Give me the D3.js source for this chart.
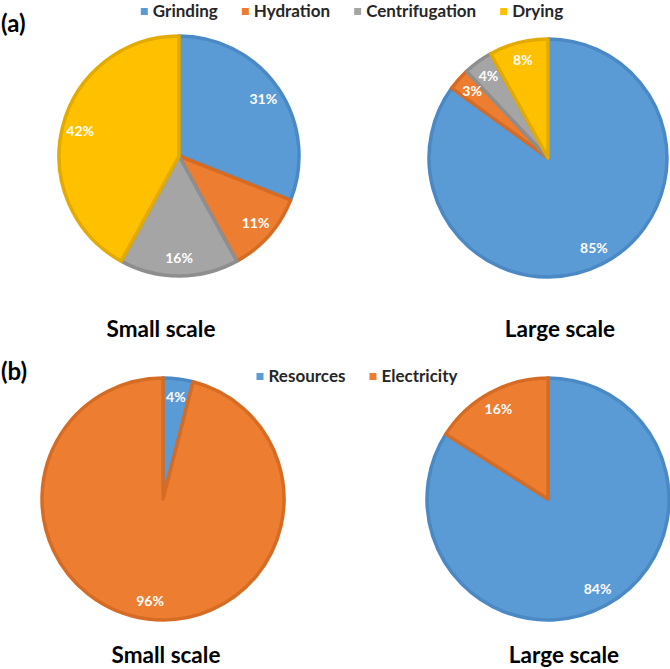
<!DOCTYPE html>
<html><head><meta charset="utf-8">
<script src="https://cdn.jsdelivr.net/npm/d3@7"></script>
<style>
body{margin:0;background:#fff}
svg{display:block}
text{font-family:Lato,"Open Sans",sans-serif;font-weight:700}
</style>
</head><body>
<svg id="c" width="670" height="669"></svg>
<script>
// ---- data ----
const stepsA = ["Grinding", "Hydration", "Centrifugation", "Drying"];
const smallScaleA = [31, 11, 16, 42];
const largeScaleA = [85, 3, 4, 8];
const stepsB = ["Resources", "Electricity"];
const smallScaleB = [4, 96];
const largeScaleB = [84, 16];
const scaleTitles = ["Small scale", "Large scale"];
const panelLabels = ["(a)", "(b)"];

// ---- styling ----
const fillColors = ["#5B9BD5", "#ED7D31", "#A5A5A5", "#FFC000"];
const strokeColors = ["#4A89C5", "#D66C24", "#8E8E8E", "#E3AB00"];

const svg = d3.select("#c");

const colorA = d3.scaleOrdinal().domain(stepsA).range(fillColors);
const strokeA = d3.scaleOrdinal().domain(stepsA).range(strokeColors);
const colorB = d3.scaleOrdinal().domain(stepsB).range(fillColors);
const strokeB = d3.scaleOrdinal().domain(stepsB).range(strokeColors);

const pieGen = d3.pie().sort(null).value(d => d.v);

function drawPie(cx, cy, r, cats, vals, fill, stroke) {
  const g = svg.append("g").attr("transform", `translate(${cx},${cy})`);
  const data = pieGen(cats.map((c, i) => ({c, v: vals[i]})));
  const arc = d3.arc().innerRadius(0).outerRadius(r);
  const lab = d3.arc().innerRadius(r * 0.85).outerRadius(r * 0.85);
  g.selectAll("path").data(data).join("path")
    .attr("d", arc)
    .attr("fill", d => fill(d.data.c))
    .attr("stroke", d => stroke(d.data.c))
    .attr("stroke-width", 3.5)
    .attr("stroke-linejoin", "round");
  g.selectAll("text").data(data).join("text")
    .attr("transform", d => `translate(${lab.centroid(d)})`)
    .attr("text-anchor", "middle")
    .attr("dy", "0.35em")
    .attr("fill", "#fff")
    .attr("font-size", 14)
    .text(d => d.data.v + "%");
}

function drawLegend(cx, y, cats, fill) {
  const g = svg.append("g");
  const items = cats.map(c => {
    const t = g.append("text").attr("font-size", 17).attr("fill", "#262626").text(c);
    return {c, t, w: t.node().getComputedTextLength()};
  });
  const sq = 7, gap1 = 5, gap2 = 24;
  const total = d3.sum(items, d => sq + gap1 + d.w) + gap2 * (items.length - 1);
  let x = cx - total / 2;
  items.forEach(it => {
    g.append("rect").attr("x", x).attr("y", y - 9).attr("width", sq).attr("height", sq)
      .attr("fill", fill(it.c));
    it.t.attr("x", x + sq + gap1).attr("y", y);
    x += sq + gap1 + it.w + gap2;
  });
}

// panel (a)
drawPie(179, 156, 120, stepsA, smallScaleA, colorA, strokeA);
drawPie(548, 158, 119, stepsA, largeScaleA, colorA, strokeA);
drawLegend(352, 17, stepsA, colorA);

// panel (b)
drawPie(163, 499, 121, stepsB, smallScaleB, colorB, strokeB);
drawPie(548, 499, 121, stepsB, largeScaleB, colorB, strokeB);
drawLegend(357, 382, stepsB, colorB);

// titles
const titlePos = [[161, 337], [560, 337], [166, 663], [564, 663]];
titlePos.forEach((p, i) => {
  svg.append("text").attr("x", p[0]).attr("y", p[1]).attr("text-anchor", "middle")
    .attr("font-size", 22.5).attr("fill", "#000").text(scaleTitles[i % 2]);
});

// panel labels
svg.append("text").attr("x", 1).attr("y", 32).attr("font-size", 24).attr("fill", "#000").text(panelLabels[0]);
svg.append("text").attr("x", 1).attr("y", 380).attr("font-size", 24).attr("fill", "#000").text(panelLabels[1]);
</script>
</body></html>
